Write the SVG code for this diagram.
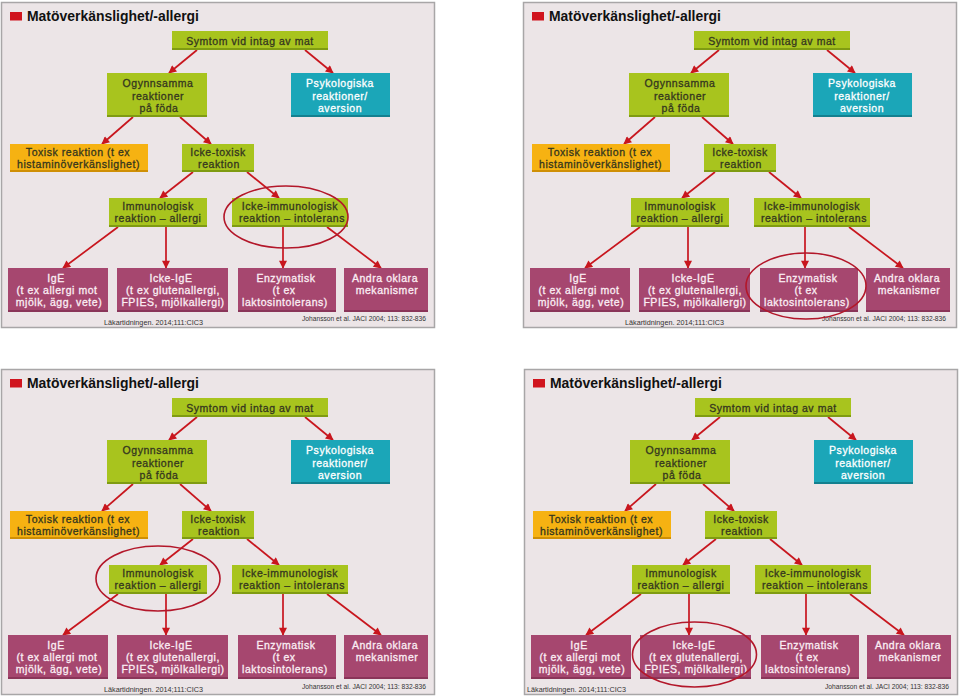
<svg xmlns="http://www.w3.org/2000/svg" width="960" height="697" viewBox="0 0 960 697">
<defs>
<style>
.panel{fill:#ece5e7;stroke:#a8a6a7;stroke-width:1.5}
.gr{fill:#a8c41e}.grs{fill:#7f9b12}
.te{fill:#1ba6b8}.tes{fill:#13808f}
.or{fill:#f6b212}.ors{fill:#cf8f05}
.pu{fill:#a6476f}.pus{fill:#8a3559}
.conn line{stroke:#c8161e;stroke-width:1.7;fill:none;marker-end:url(#ah)}
.hl{fill:none;stroke:#b3172a;stroke-width:1.6}
text{font-family:"Liberation Sans",Arial,sans-serif;font-size:10.5px;letter-spacing:0.55px;text-anchor:middle;font-weight:normal}
.tg{fill:#34361e;stroke:#34361e;stroke-width:0.3}
.tw{fill:#fbeef4;stroke:#fbeef4;stroke-width:0.3}
.tt{fill:#ffffff;stroke:#ffffff;stroke-width:0.3}
text.ti{font-family:"Liberation Sans",Arial,sans-serif;font-weight:bold;font-size:14px;letter-spacing:0;text-anchor:start;fill:#111}
text.ft{font-family:"Liberation Sans",Arial,sans-serif;font-weight:normal;letter-spacing:0;fill:#333}
text.f1{font-size:7.1px}
text.f2{font-size:6.6px}
</style>
<marker id="ah" viewBox="0 0 10 10" refX="9" refY="5" markerWidth="9" markerHeight="8" markerUnits="userSpaceOnUse" orient="auto">
<path d="M0,0 L10,5 L0,10 z" fill="#c8161e"/>
</marker>
</defs>
<rect x="0" y="0" width="960" height="697" fill="#ffffff"/>

<!-- Panel 1 -->
<g id="p1" transform="translate(0,0)">
<rect class="panel" x="1.5" y="2.5" width="433" height="325"/>
<g id="p1-title"><rect x="10" y="12" width="12" height="8.5" fill="#d0141e"/><text class="ti" x="27" y="21" textLength="172" lengthAdjust="spacingAndGlyphs">Matöverkänslighet/-allergi</text></g>
<g id="p1-connectors" class="conn">
<line x1="197" y1="50" x2="169" y2="73"/>
<line x1="305" y1="50" x2="333" y2="73"/>
<line x1="133" y1="117" x2="102" y2="144"/>
<line x1="180" y1="117" x2="211" y2="144"/>
<line x1="193" y1="172" x2="160" y2="198"/>
<line x1="247" y1="172" x2="279" y2="198"/>
<line x1="118" y1="227" x2="63" y2="268"/>
<line x1="166" y1="227" x2="166" y2="268"/>
<line x1="283" y1="227" x2="283" y2="268"/>
<line x1="327" y1="227" x2="381" y2="268"/>
</g>
<g id="p1-symtom"><rect class="gr" x="172" y="31" width="156" height="19"/><rect class="grs" x="172" y="48" width="156" height="2"/><text class="tg" x="250" y="45">Symtom vid intag av mat</text></g>
<g id="p1-ogynnsamma"><rect class="gr" x="107" y="73" width="100" height="44"/><rect class="grs" x="107" y="115" width="100" height="2"/><text class="tg"><tspan x="158" y="87">Ogynnsamma</tspan><tspan x="158" y="99.5">reaktioner</tspan><tspan x="159" y="112">på föda</tspan></text></g>
<g id="p1-psykologiska"><rect class="te" x="291" y="73" width="99" height="44"/><rect class="tes" x="291" y="115" width="99" height="2"/><text class="tt"><tspan x="340" y="87">Psykologiska</tspan><tspan x="340" y="99.5">reaktioner/</tspan><tspan x="340" y="112">aversion</tspan></text></g>
<g id="p1-toxisk"><rect class="or" x="10" y="144" width="138" height="28"/><rect class="ors" x="10" y="170" width="138" height="2"/><text class="tg"><tspan x="78" y="156">Toxisk reaktion (t ex</tspan><tspan x="78.5" y="168">histaminöverkänslighet)</tspan></text></g>
<g id="p1-icketoxisk"><rect class="gr" x="182" y="144" width="72" height="28"/><rect class="grs" x="182" y="170" width="72" height="2"/><text class="tg"><tspan x="218" y="156">Icke-toxisk</tspan><tspan x="219" y="168">reaktion</tspan></text></g>
<g id="p1-immunologisk"><rect class="gr" x="109" y="198" width="98" height="29"/><rect class="grs" x="109" y="225" width="98" height="2"/><text class="tg"><tspan x="158" y="210">Immunologisk</tspan><tspan x="158" y="222">reaktion – allergi</tspan></text></g>
<g id="p1-ickeimmunologisk"><rect class="gr" x="232" y="198" width="116" height="29"/><rect class="grs" x="232" y="225" width="116" height="2"/><text class="tg"><tspan x="290" y="210">Icke-immunologisk</tspan><tspan x="292" y="222">reaktion – intolerans</tspan></text></g>
<g id="p1-ige"><rect class="pu" x="8" y="268" width="100" height="44"/><rect class="pus" x="8" y="310" width="100" height="2"/><text class="tw"><tspan x="56" y="282">IgE</tspan><tspan x="57" y="294">(t ex allergi mot</tspan><tspan x="59" y="306">mjölk, ägg, vete)</tspan></text></g>
<g id="p1-ickeige"><rect class="pu" x="117" y="268" width="111" height="44"/><rect class="pus" x="117" y="310" width="111" height="2"/><text class="tw"><tspan x="171" y="282">Icke-IgE</tspan><tspan x="173" y="294">(t ex glutenallergi,</tspan><tspan x="173" y="306">FPIES, mjölkallergi)</tspan></text></g>
<g id="p1-enzymatisk"><rect class="pu" x="238" y="268" width="98" height="44"/><rect class="pus" x="238" y="310" width="98" height="2"/><text class="tw"><tspan x="286" y="282">Enzymatisk</tspan><tspan x="284" y="294">(t ex</tspan><tspan x="285" y="306">laktosintolerans)</tspan></text></g>
<g id="p1-andra"><rect class="pu" x="344" y="268" width="84" height="44"/><rect class="pus" x="344" y="310" width="84" height="2"/><text class="tw"><tspan x="385" y="282">Andra oklara</tspan><tspan x="387" y="294">mekanismer</tspan></text></g>
<text class="ft f1" x="153.5" y="324.5" textLength="99" lengthAdjust="spacingAndGlyphs">Läkartidningen. 2014;111:CIC3</text>
<text class="ft f2" x="364" y="320.5" textLength="124" lengthAdjust="spacingAndGlyphs">Johansson et al. JACI 2004; 113: 832-836</text>
<ellipse class="hl" cx="286" cy="217" rx="62" ry="31"/>
</g>

<!-- Panel 2 -->
<g id="p2" transform="translate(522,0)">
<rect class="panel" x="1.5" y="2.5" width="433" height="325"/>
<g id="p2-title"><rect x="10" y="12" width="12" height="8.5" fill="#d0141e"/><text class="ti" x="27" y="21" textLength="172" lengthAdjust="spacingAndGlyphs">Matöverkänslighet/-allergi</text></g>
<g id="p2-connectors" class="conn">
<line x1="197" y1="50" x2="169" y2="73"/>
<line x1="305" y1="50" x2="333" y2="73"/>
<line x1="133" y1="117" x2="102" y2="144"/>
<line x1="180" y1="117" x2="211" y2="144"/>
<line x1="193" y1="172" x2="160" y2="198"/>
<line x1="247" y1="172" x2="279" y2="198"/>
<line x1="118" y1="227" x2="63" y2="268"/>
<line x1="166" y1="227" x2="166" y2="268"/>
<line x1="283" y1="227" x2="283" y2="268"/>
<line x1="327" y1="227" x2="381" y2="268"/>
</g>
<g id="p2-symtom"><rect class="gr" x="172" y="31" width="156" height="19"/><rect class="grs" x="172" y="48" width="156" height="2"/><text class="tg" x="250" y="45">Symtom vid intag av mat</text></g>
<g id="p2-ogynnsamma"><rect class="gr" x="107" y="73" width="100" height="44"/><rect class="grs" x="107" y="115" width="100" height="2"/><text class="tg"><tspan x="158" y="87">Ogynnsamma</tspan><tspan x="158" y="99.5">reaktioner</tspan><tspan x="159" y="112">på föda</tspan></text></g>
<g id="p2-psykologiska"><rect class="te" x="291" y="73" width="99" height="44"/><rect class="tes" x="291" y="115" width="99" height="2"/><text class="tt"><tspan x="340" y="87">Psykologiska</tspan><tspan x="340" y="99.5">reaktioner/</tspan><tspan x="340" y="112">aversion</tspan></text></g>
<g id="p2-toxisk"><rect class="or" x="10" y="144" width="138" height="28"/><rect class="ors" x="10" y="170" width="138" height="2"/><text class="tg"><tspan x="78" y="156">Toxisk reaktion (t ex</tspan><tspan x="78.5" y="168">histaminöverkänslighet)</tspan></text></g>
<g id="p2-icketoxisk"><rect class="gr" x="182" y="144" width="72" height="28"/><rect class="grs" x="182" y="170" width="72" height="2"/><text class="tg"><tspan x="218" y="156">Icke-toxisk</tspan><tspan x="219" y="168">reaktion</tspan></text></g>
<g id="p2-immunologisk"><rect class="gr" x="109" y="198" width="98" height="29"/><rect class="grs" x="109" y="225" width="98" height="2"/><text class="tg"><tspan x="158" y="210">Immunologisk</tspan><tspan x="158" y="222">reaktion – allergi</tspan></text></g>
<g id="p2-ickeimmunologisk"><rect class="gr" x="232" y="198" width="116" height="29"/><rect class="grs" x="232" y="225" width="116" height="2"/><text class="tg"><tspan x="290" y="210">Icke-immunologisk</tspan><tspan x="292" y="222">reaktion – intolerans</tspan></text></g>
<g id="p2-ige"><rect class="pu" x="8" y="268" width="100" height="44"/><rect class="pus" x="8" y="310" width="100" height="2"/><text class="tw"><tspan x="56" y="282">IgE</tspan><tspan x="57" y="294">(t ex allergi mot</tspan><tspan x="59" y="306">mjölk, ägg, vete)</tspan></text></g>
<g id="p2-ickeige"><rect class="pu" x="117" y="268" width="111" height="44"/><rect class="pus" x="117" y="310" width="111" height="2"/><text class="tw"><tspan x="171" y="282">Icke-IgE</tspan><tspan x="173" y="294">(t ex glutenallergi,</tspan><tspan x="173" y="306">FPIES, mjölkallergi)</tspan></text></g>
<g id="p2-enzymatisk"><rect class="pu" x="238" y="268" width="98" height="44"/><rect class="pus" x="238" y="310" width="98" height="2"/><text class="tw"><tspan x="286" y="282">Enzymatisk</tspan><tspan x="284" y="294">(t ex</tspan><tspan x="285" y="306">laktosintolerans)</tspan></text></g>
<g id="p2-andra"><rect class="pu" x="344" y="268" width="84" height="44"/><rect class="pus" x="344" y="310" width="84" height="2"/><text class="tw"><tspan x="385" y="282">Andra oklara</tspan><tspan x="387" y="294">mekanismer</tspan></text></g>
<text class="ft f1" x="152.5" y="324.5" textLength="99" lengthAdjust="spacingAndGlyphs">Läkartidningen. 2014;111:CIC3</text>
<text class="ft f2" x="362" y="321" textLength="124" lengthAdjust="spacingAndGlyphs">Johansson et al. JACI 2004; 113: 832-836</text>
<ellipse class="hl" cx="284" cy="286" rx="60" ry="33"/>
</g>

<!-- Panel 3 -->
<g id="p3" transform="translate(0,367)">
<rect class="panel" x="1.5" y="2.5" width="433" height="325"/>
<g id="p3-title"><rect x="10" y="12" width="12" height="8.5" fill="#d0141e"/><text class="ti" x="27" y="21" textLength="172" lengthAdjust="spacingAndGlyphs">Matöverkänslighet/-allergi</text></g>
<g id="p3-connectors" class="conn">
<line x1="197" y1="50" x2="169" y2="73"/>
<line x1="305" y1="50" x2="333" y2="73"/>
<line x1="133" y1="117" x2="102" y2="144"/>
<line x1="180" y1="117" x2="211" y2="144"/>
<line x1="193" y1="172" x2="160" y2="198"/>
<line x1="247" y1="172" x2="279" y2="198"/>
<line x1="118" y1="227" x2="63" y2="268"/>
<line x1="166" y1="227" x2="166" y2="268"/>
<line x1="283" y1="227" x2="283" y2="268"/>
<line x1="327" y1="227" x2="381" y2="268"/>
</g>
<g id="p3-symtom"><rect class="gr" x="172" y="31" width="156" height="19"/><rect class="grs" x="172" y="48" width="156" height="2"/><text class="tg" x="250" y="45">Symtom vid intag av mat</text></g>
<g id="p3-ogynnsamma"><rect class="gr" x="107" y="73" width="100" height="44"/><rect class="grs" x="107" y="115" width="100" height="2"/><text class="tg"><tspan x="158" y="87">Ogynnsamma</tspan><tspan x="158" y="99.5">reaktioner</tspan><tspan x="159" y="112">på föda</tspan></text></g>
<g id="p3-psykologiska"><rect class="te" x="291" y="73" width="99" height="44"/><rect class="tes" x="291" y="115" width="99" height="2"/><text class="tt"><tspan x="340" y="87">Psykologiska</tspan><tspan x="340" y="99.5">reaktioner/</tspan><tspan x="340" y="112">aversion</tspan></text></g>
<g id="p3-toxisk"><rect class="or" x="10" y="144" width="138" height="28"/><rect class="ors" x="10" y="170" width="138" height="2"/><text class="tg"><tspan x="78" y="156">Toxisk reaktion (t ex</tspan><tspan x="78.5" y="168">histaminöverkänslighet)</tspan></text></g>
<g id="p3-icketoxisk"><rect class="gr" x="182" y="144" width="72" height="28"/><rect class="grs" x="182" y="170" width="72" height="2"/><text class="tg"><tspan x="218" y="156">Icke-toxisk</tspan><tspan x="219" y="168">reaktion</tspan></text></g>
<g id="p3-immunologisk"><rect class="gr" x="109" y="198" width="98" height="29"/><rect class="grs" x="109" y="225" width="98" height="2"/><text class="tg"><tspan x="158" y="210">Immunologisk</tspan><tspan x="158" y="222">reaktion – allergi</tspan></text></g>
<g id="p3-ickeimmunologisk"><rect class="gr" x="232" y="198" width="116" height="29"/><rect class="grs" x="232" y="225" width="116" height="2"/><text class="tg"><tspan x="290" y="210">Icke-immunologisk</tspan><tspan x="292" y="222">reaktion – intolerans</tspan></text></g>
<g id="p3-ige"><rect class="pu" x="8" y="268" width="100" height="44"/><rect class="pus" x="8" y="310" width="100" height="2"/><text class="tw"><tspan x="56" y="282">IgE</tspan><tspan x="57" y="294">(t ex allergi mot</tspan><tspan x="59" y="306">mjölk, ägg, vete)</tspan></text></g>
<g id="p3-ickeige"><rect class="pu" x="117" y="268" width="111" height="44"/><rect class="pus" x="117" y="310" width="111" height="2"/><text class="tw"><tspan x="171" y="282">Icke-IgE</tspan><tspan x="173" y="294">(t ex glutenallergi,</tspan><tspan x="173" y="306">FPIES, mjölkallergi)</tspan></text></g>
<g id="p3-enzymatisk"><rect class="pu" x="238" y="268" width="98" height="44"/><rect class="pus" x="238" y="310" width="98" height="2"/><text class="tw"><tspan x="286" y="282">Enzymatisk</tspan><tspan x="284" y="294">(t ex</tspan><tspan x="285" y="306">laktosintolerans)</tspan></text></g>
<g id="p3-andra"><rect class="pu" x="344" y="268" width="84" height="44"/><rect class="pus" x="344" y="310" width="84" height="2"/><text class="tw"><tspan x="385" y="282">Andra oklara</tspan><tspan x="387" y="294">mekanismer</tspan></text></g>
<text class="ft f1" x="153.5" y="325" textLength="99" lengthAdjust="spacingAndGlyphs">Läkartidningen. 2014;111:CIC3</text>
<text class="ft f2" x="364" y="322" textLength="124" lengthAdjust="spacingAndGlyphs">Johansson et al. JACI 2004; 113: 832-836</text>
<ellipse class="hl" cx="158" cy="211.5" rx="62" ry="32.5"/>
</g>

<!-- Panel 4 -->
<g id="p4" transform="translate(523,367)">
<rect class="panel" x="1.5" y="2.5" width="433" height="325"/>
<g id="p4-title"><rect x="10" y="12" width="12" height="8.5" fill="#d0141e"/><text class="ti" x="27" y="21" textLength="172" lengthAdjust="spacingAndGlyphs">Matöverkänslighet/-allergi</text></g>
<g id="p4-connectors" class="conn">
<line x1="197" y1="50" x2="169" y2="73"/>
<line x1="305" y1="50" x2="333" y2="73"/>
<line x1="133" y1="117" x2="102" y2="144"/>
<line x1="180" y1="117" x2="211" y2="144"/>
<line x1="193" y1="172" x2="160" y2="198"/>
<line x1="247" y1="172" x2="279" y2="198"/>
<line x1="118" y1="227" x2="63" y2="268"/>
<line x1="166" y1="227" x2="166" y2="268"/>
<line x1="283" y1="227" x2="283" y2="268"/>
<line x1="327" y1="227" x2="381" y2="268"/>
</g>
<g id="p4-symtom"><rect class="gr" x="172" y="31" width="156" height="19"/><rect class="grs" x="172" y="48" width="156" height="2"/><text class="tg" x="250" y="45">Symtom vid intag av mat</text></g>
<g id="p4-ogynnsamma"><rect class="gr" x="107" y="73" width="100" height="44"/><rect class="grs" x="107" y="115" width="100" height="2"/><text class="tg"><tspan x="158" y="87">Ogynnsamma</tspan><tspan x="158" y="99.5">reaktioner</tspan><tspan x="159" y="112">på föda</tspan></text></g>
<g id="p4-psykologiska"><rect class="te" x="291" y="73" width="99" height="44"/><rect class="tes" x="291" y="115" width="99" height="2"/><text class="tt"><tspan x="340" y="87">Psykologiska</tspan><tspan x="340" y="99.5">reaktioner/</tspan><tspan x="340" y="112">aversion</tspan></text></g>
<g id="p4-toxisk"><rect class="or" x="10" y="144" width="138" height="28"/><rect class="ors" x="10" y="170" width="138" height="2"/><text class="tg"><tspan x="78" y="156">Toxisk reaktion (t ex</tspan><tspan x="78.5" y="168">histaminöverkänslighet)</tspan></text></g>
<g id="p4-icketoxisk"><rect class="gr" x="182" y="144" width="72" height="28"/><rect class="grs" x="182" y="170" width="72" height="2"/><text class="tg"><tspan x="218" y="156">Icke-toxisk</tspan><tspan x="219" y="168">reaktion</tspan></text></g>
<g id="p4-immunologisk"><rect class="gr" x="109" y="198" width="98" height="29"/><rect class="grs" x="109" y="225" width="98" height="2"/><text class="tg"><tspan x="158" y="210">Immunologisk</tspan><tspan x="158" y="222">reaktion – allergi</tspan></text></g>
<g id="p4-ickeimmunologisk"><rect class="gr" x="232" y="198" width="116" height="29"/><rect class="grs" x="232" y="225" width="116" height="2"/><text class="tg"><tspan x="290" y="210">Icke-immunologisk</tspan><tspan x="292" y="222">reaktion – intolerans</tspan></text></g>
<g id="p4-ige"><rect class="pu" x="8" y="268" width="100" height="44"/><rect class="pus" x="8" y="310" width="100" height="2"/><text class="tw"><tspan x="56" y="282">IgE</tspan><tspan x="57" y="294">(t ex allergi mot</tspan><tspan x="59" y="306">mjölk, ägg, vete)</tspan></text></g>
<g id="p4-ickeige"><rect class="pu" x="117" y="268" width="111" height="44"/><rect class="pus" x="117" y="310" width="111" height="2"/><text class="tw"><tspan x="171" y="282">Icke-IgE</tspan><tspan x="173" y="294">(t ex glutenallergi,</tspan><tspan x="173" y="306">FPIES, mjölkallergi)</tspan></text></g>
<g id="p4-enzymatisk"><rect class="pu" x="238" y="268" width="98" height="44"/><rect class="pus" x="238" y="310" width="98" height="2"/><text class="tw"><tspan x="286" y="282">Enzymatisk</tspan><tspan x="284" y="294">(t ex</tspan><tspan x="285" y="306">laktosintolerans)</tspan></text></g>
<g id="p4-andra"><rect class="pu" x="344" y="268" width="84" height="44"/><rect class="pus" x="344" y="310" width="84" height="2"/><text class="tw"><tspan x="385" y="282">Andra oklara</tspan><tspan x="387" y="294">mekanismer</tspan></text></g>
<text class="ft f1" x="53.5" y="325" textLength="99" lengthAdjust="spacingAndGlyphs">Läkartidningen. 2014;111:CIC3</text>
<text class="ft f2" x="364" y="322" textLength="124" lengthAdjust="spacingAndGlyphs">Johansson et al. JACI 2004; 113: 832-836</text>
<ellipse class="hl" cx="171.5" cy="287.5" rx="62" ry="32.5"/>
</g>
</svg>
